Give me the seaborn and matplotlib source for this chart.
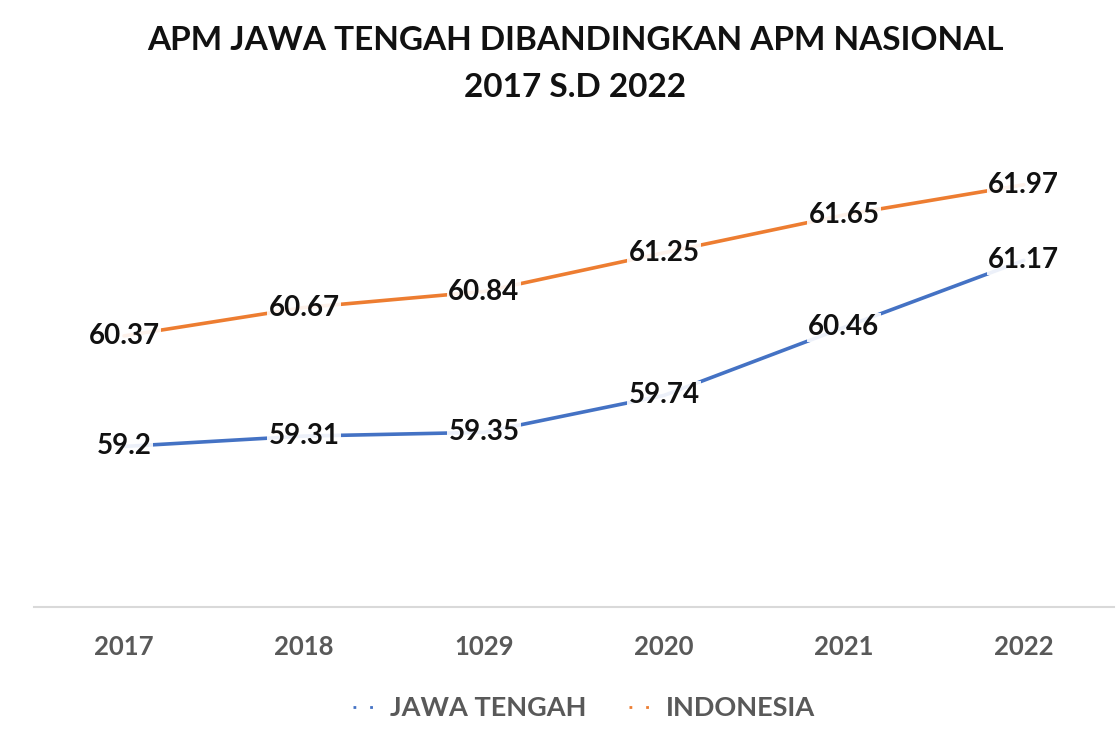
import matplotlib
matplotlib.use("Agg")
import matplotlib.pyplot as plt
import seaborn as sns
import pandas as pd
from matplotlib.lines import Line2D

years = ["2017", "2018", "1029", "2020", "2021", "2022"]
jawa_tengah = [59.2, 59.31, 59.35, 59.74, 60.46, 61.17]
indonesia = [60.37, 60.67, 60.84, 61.25, 61.65, 61.97]
series_names = ["JAWA TENGAH", "INDONESIA"]
colors = ["#4472C4", "#ED7D31"]

df = pd.DataFrame({
    "year": years * 2,
    "value": jawa_tengah + indonesia,
    "series": [series_names[0]] * len(years) + [series_names[1]] * len(years),
})

sns.set_theme(style="white")
plt.rcParams["font.family"] = ["Lato", "DejaVu Sans"]

fig = plt.figure(figsize=(11.19, 7.44), dpi=100)
ax = fig.add_axes([0.0304, 0.184, 0.965, 0.635])

sns.lineplot(data=df, x="year", y="value", hue="series", hue_order=series_names,
             palette=colors, linewidth=2.6, sort=False, legend=False, ax=ax)

ax.set_xlim(-0.5, len(years) - 0.5)
ax.set_ylim(57.5, 62.5)
ax.set_yticks([])
ax.set_xlabel("")
ax.set_ylabel("")
for s in ["top", "right", "left"]:
    ax.spines[s].set_visible(False)
ax.spines["bottom"].set_color("#D9D9D9")
ax.spines["bottom"].set_linewidth(1.5)
ax.tick_params(axis="x", length=0, pad=20)
ax.set_xticks(range(len(years)))
ax.set_xticklabels(years, fontsize=18.5, fontweight="bold", color="#595959")

for vals in (jawa_tengah, indonesia):
    for i, v in enumerate(vals):
        ax.text(i, v, f"{v:g}", ha="center", va="center", fontsize=20,
                fontweight="bold", color="#111111", zorder=5,
                bbox=dict(boxstyle="square,pad=0.05", fc="white", ec="none", alpha=0.9))

fig.text(0.514, 0.946, "APM JAWA TENGAH DIBANDINGKAN APM NASIONAL", ha="center", va="center",
         fontsize=24, fontweight="bold", color="#111111")
fig.text(0.514, 0.882, "2017 S.D 2022", ha="center", va="center",
         fontsize=24, fontweight="bold", color="#111111")

handles = [Line2D([0], [0], color=c, linewidth=2.0, linestyle=(0, (1, 5)))
           for c in colors]
fig.legend(handles, series_names, loc="center", bbox_to_anchor=(0.522, 0.048), ncol=2,
           frameon=False, handlelength=1.1, handletextpad=0.25, columnspacing=1.6,
           prop={"size": 19.5, "weight": "bold"}, labelcolor="#595959")

fig.savefig("out.png", dpi=100)
